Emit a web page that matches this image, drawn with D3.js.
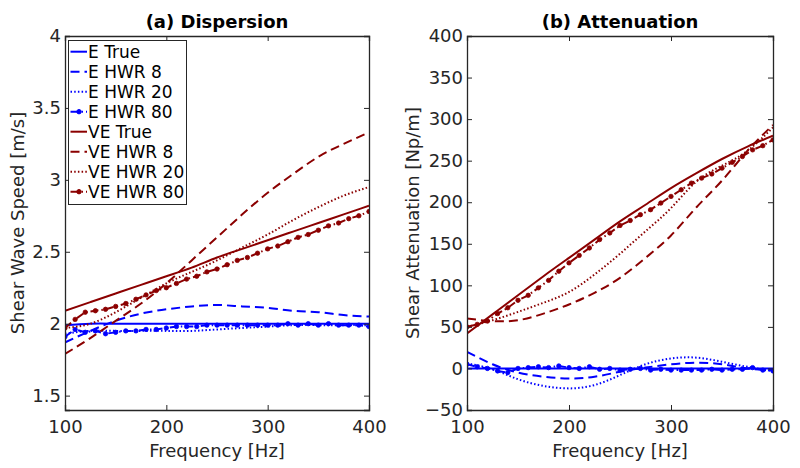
<!DOCTYPE html>
<html><head><meta charset="utf-8">
<script src="https://cdn.jsdelivr.net/npm/d3@7"></script>
<style>body{margin:0;background:#fff}svg{display:block;font-family:"DejaVu Sans",sans-serif}</style>
</head><body><svg id="c" width="800" height="468"></svg>
<script>
// ---------- data ----------
const freqCoarse = [100,125,150,175,200,225,250,275,300,325,350,375,400];
const freqFine = [100,110,120,130,140,150,160,170,180,190,200,210,220,230,240,250,260,270,280,290,300,310,320,330,340,350,360,370,380,390,400];

// (a) Dispersion, shear wave speed [m/s]
const dispETrue  = [1.99,2.0,2.0,2.0,2.0,2.0,2.0,2.0,2.0,2.0,2.0,2.0,2.0];
const dispEHwr8  = [1.87,1.95,2.02,2.07,2.10,2.12,2.13,2.12,2.11,2.09,2.08,2.06,2.05];
const dispEHwr20 = [1.93,1.95,1.95,1.95,1.95,1.95,1.96,1.97,1.98,1.99,1.99,1.99,1.99];
const dispEHwr80 = [1.91,1.96,1.94,1.95,1.93,1.94,1.95,1.95,1.96,1.96,1.97,1.98,1.98,1.98,1.99,1.99,1.99,1.99,1.99,1.99,1.99,1.99,2.0,1.99,2.0,1.99,2.0,1.99,1.99,1.99,1.98];
const dispVETrue  = [2.09,2.15,2.21,2.27,2.33,2.39,2.46,2.52,2.58,2.64,2.70,2.76,2.82];
const dispVEHwr8  = [1.79,1.90,2.02,2.14,2.28,2.44,2.60,2.76,2.91,3.04,3.16,3.25,3.33];
const dispVEHwr20 = [1.97,2.00,2.08,2.18,2.28,2.36,2.44,2.53,2.62,2.72,2.81,2.89,2.95];
const dispVEHwr80 = [1.97,2.03,2.08,2.09,2.10,2.12,2.14,2.17,2.20,2.23,2.25,2.28,2.31,2.33,2.36,2.38,2.41,2.44,2.46,2.49,2.52,2.54,2.57,2.60,2.62,2.65,2.68,2.70,2.73,2.75,2.78];

// (b) Attenuation [Np/m]
const attETrue  = [0,0,0,0,0,0,0,0,0,0,0,0,0];
const attEHwr8  = [20,5,-5,-10,-12,-10,-4,1,5,7,5,0,-2];
const attEHwr20 = [6,-1,-13,-21,-24,-20,-8,5,12,13,8,2,-3];
const attEHwr80 = [5,2,0,-3,-5,0,1,2,1,3,1,0,2,-1,0,-2,-1,0,-2,-1,-2,-2,-2,-2,-1,-2,-1,-1,1,-2,-3];
const attVETrue  = [42,65,88,111,133,155,177,197,217,235,252,267,280];
const attVEHwr8  = [60,57,58,66,77,91,109,133,160,194,226,262,293];
const attVEHwr20 = [50,58,68,79,92,113,138,165,193,225,244,262,290];
const attVEHwr80 = [50,53,57,66,73,82,88,97,106,117,127,136,145,155,163,172,178,185,191,199,207,215,223,229,234,241,248,255,263,268,275];

const xTicks = [100,200,300,400];
const yTicksA = [1.5,2,2.5,3,3.5,4];
const yTicksB = [-50,0,50,100,150,200,250,300,350,400];
const legendLabels = ["E True","E HWR 8","E HWR 20","E HWR 80","VE True","VE HWR 8","VE HWR 20","VE HWR 80"];

// ---------- styles ----------
const BLUE = "#0000ff", RED = "#8b0000";
const styles = {
  "True": {dash:null, marker:false},
  "HWR 8": {dash:"9,5", marker:false},
  "HWR 20": {dash:"1.5,2.2", marker:false},
  "HWR 80": {dash:"8,3,1.5,3", marker:true}
};

const svg = d3.select("#c");
const AX = "#262626";

function panel(opt){
  const g = svg.append("g");
  const x = d3.scaleLinear().domain([100,400]).range([opt.x0, opt.x1]);
  const y = d3.scaleLinear().domain(opt.ydom).range([410, 36]);
  const clipId = "clip"+opt.id;
  svg.append("clipPath").attr("id",clipId).append("rect")
    .attr("x",opt.x0).attr("y",36).attr("width",opt.x1-opt.x0).attr("height",374);

  const line = d3.line().x(d=>x(d[0])).y(d=>y(d[1]));
  const lines = g.append("g").attr("clip-path",`url(#${clipId})`);
  opt.series.forEach(s=>{
    const st = styles[s.kind];
    const pts = s.f.map((f,i)=>[f,s.v[i]]);
    const curve = s.f.length > 20 ? d3.curveLinear : d3.curveNatural;
    lines.append("path").datum(pts)
      .attr("d", line.curve(curve))
      .attr("fill","none").attr("stroke",s.color).attr("stroke-width",2)
      .attr("stroke-dasharray", st.dash);
    if(st.marker){
      lines.selectAll(null).data(pts).enter().append("circle")
        .attr("cx",d=>x(d[0])).attr("cy",d=>y(d[1])).attr("r",2.2)
        .attr("fill",s.color).attr("stroke",s.color).attr("stroke-width",0.8);
    }
  });

  // axes (box with inward ticks on all sides)
  const axB = d3.axisBottom(x).tickValues(xTicks).tickSize(-5).tickPadding(10);
  const axT = d3.axisTop(x).tickValues(xTicks).tickSize(-5).tickFormat("");
  const axL = d3.axisLeft(y).tickValues(opt.yTicks).tickSize(-5).tickPadding(4).tickFormat(d3.format("~g"));
  const axR = d3.axisRight(y).tickValues(opt.yTicks).tickSize(-5).tickFormat("");
  [[axB,`translate(0,410)`],[axT,`translate(0,36)`],[axL,`translate(${opt.x0},0)`],[axR,`translate(${opt.x1},0)`]]
    .forEach(([a,t])=>{
      const ag = g.append("g").attr("transform",t).call(a);
      ag.select(".domain").attr("stroke",AX).attr("stroke-width",1.3);
      ag.selectAll(".tick line").attr("stroke",AX).attr("stroke-width",1);
      ag.selectAll("text").attr("fill",AX).style("font-size","18px").style("font-family","DejaVu Sans");
    });

  const cx = (opt.x0+opt.x1)/2;
  g.append("text").attr("x",cx).attr("y",28).attr("text-anchor","middle")
    .style("font-size","18px").style("font-weight","bold").attr("fill","#000").text(opt.title);
  g.append("text").attr("x",cx).attr("y",457).attr("text-anchor","middle")
    .style("font-size","18px").attr("fill",AX).text("Frequency [Hz]");
  g.append("text").attr("transform",`translate(${opt.ylx},223) rotate(-90)`).attr("text-anchor","middle")
    .attr("dy","0.35em").style("font-size","18px").attr("fill",AX).text(opt.ylabel);
  return {g,x,y};
}

const kinds = ["True","HWR 8","HWR 20","HWR 80"];
function mk(arrs){
  return arrs.map((v,i)=>({kind:kinds[i%4], color: i<4?BLUE:RED, v, f: v.length>20?freqFine:freqCoarse}));
}

panel({id:"a", x0:65, x1:369, ydom:[1.4,4], yTicks:yTicksA, title:"(a) Dispersion",
  ylabel:"Shear Wave Speed [m/s]", ylx:18,
  series: mk([dispETrue,dispEHwr8,dispEHwr20,dispEHwr80,dispVETrue,dispVEHwr8,dispVEHwr20,dispVEHwr80])});
panel({id:"b", x0:467, x1:773, ydom:[-50,400], yTicks:yTicksB, title:"(b) Attenuation",
  ylabel:"Shear Attenuation [Np/m]", ylx:413,
  series: mk([attETrue,attEHwr8,attEHwr20,attEHwr80,attVETrue,attVEHwr8,attVEHwr20,attVEHwr80])});

// legend
const lg = svg.append("g");
lg.append("rect").attr("x",68.5).attr("y",40.5).attr("width",118).attr("height",164)
  .attr("fill","#fff").attr("stroke",AX).attr("stroke-width",1);
legendLabels.forEach((lab,i)=>{
  const yy = 51.7 + i*20;
  const st = styles[kinds[i%4]];
  const col = i<4?BLUE:RED;
  lg.append("line").attr("x1",70.5).attr("x2",87).attr("y1",yy).attr("y2",yy)
    .attr("stroke",col).attr("stroke-width",2).attr("stroke-dasharray",st.dash);
  if(st.marker) lg.append("circle").attr("cx",79).attr("cy",yy).attr("r",2.2).attr("fill",col).attr("stroke",col);
  lg.append("text").attr("x",88).attr("y",yy).attr("dy","0.36em").style("font-size","17px")
    .attr("fill","#000").text(lab);
});
</script></body></html>
